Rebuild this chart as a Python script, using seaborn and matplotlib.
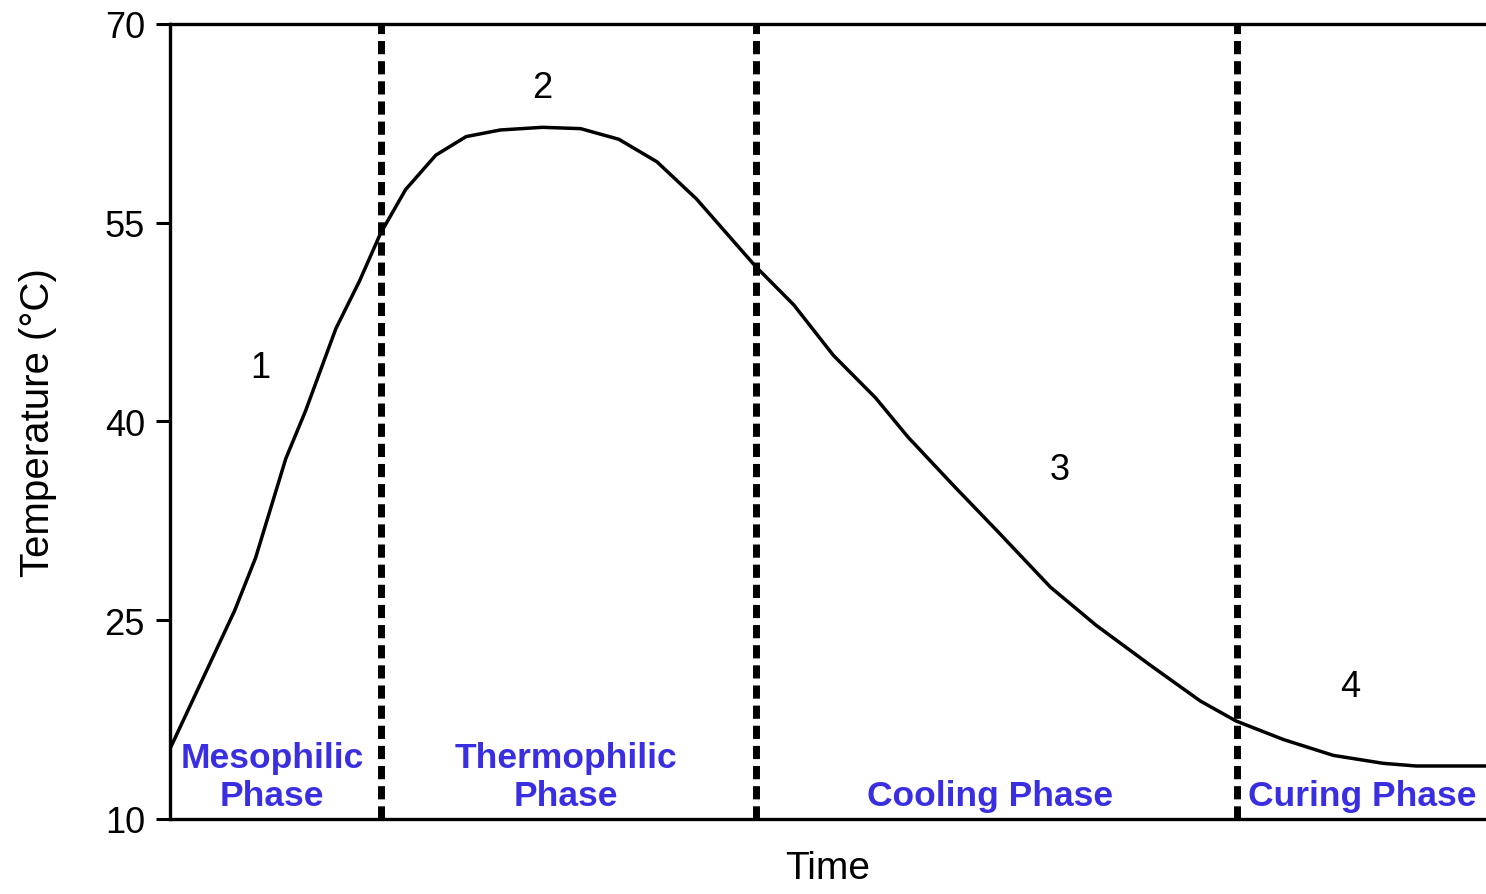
import matplotlib

matplotlib.use("Agg")

import matplotlib.pyplot as plt
import pandas as pd
import seaborn as sns

# temperature curve (time in arbitrary units 0..100)
time_pts = [0.0, 4.9, 6.5, 8.8, 10.3, 12.6, 14.4, 16.0, 17.9, 20.2, 22.5, 25.1, 28.3,
            31.2, 34.1, 37.0, 40.0, 44.5, 47.4, 50.4, 53.6, 56.1, 59.6, 62.8, 66.9,
            70.4, 74.5, 78.3, 81.0, 84.6, 88.4, 92.2, 94.7, 100.0]
temperature = [15.3, 25.7, 29.7, 37.2, 40.8, 47.0, 50.6, 54.2, 57.5, 60.1, 61.5, 62.0, 62.2,
               62.1, 61.3, 59.6, 56.8, 51.7, 48.8, 45.0, 41.8, 38.8, 35.1, 31.8, 27.5,
               24.6, 21.6, 18.9, 17.4, 16.0, 14.8, 14.2, 14.0, 14.0]

phase_bounds = [16.0, 44.5, 81.1]
phase_names = ["Mesophilic\nPhase", "Thermophilic\nPhase", "Cooling Phase", "Curing Phase"]
phase_x = [7.75, 30.1, 62.3, 90.6]
phase_y = [13.2, 13.2, 11.75, 11.75]

stage_labels = ["1", "2", "3", "4"]
stage_x = [6.85, 28.3, 67.6, 89.7]
stage_y = [44.1, 65.2, 36.4, 20.0]

y_ticks = [10, 25, 40, 55, 70]

sns.set_theme(style="ticks")
plt.rcParams["font.family"] = ["Liberation Sans", "DejaVu Sans"]
plt.rcParams["text.color"] = "black"
plt.rcParams["axes.labelcolor"] = "black"
plt.rcParams["ytick.color"] = "black"
plt.rcParams["xtick.color"] = "black"

df = pd.DataFrame({"Time": time_pts, "Temperature": temperature})

fig = plt.figure(figsize=(14.86, 8.95), dpi=100)
ax = fig.add_axes([0.1144, 0.0838, 0.8856, 0.8883])

sns.lineplot(data=df, x="Time", y="Temperature", color="black", linewidth=2.5, ax=ax)

for xb in phase_bounds:
    ax.axvline(xb, color="black", linewidth=5.0, linestyle=(0, (1.9, 1.0)))

blue = "#3a2fe0"
for name, xx, yy in zip(phase_names, phase_x, phase_y):
    ax.text(xx, yy, name, color=blue, fontsize=25.5, fontweight="bold",
            ha="center", va="center", linespacing=1.2)

for lab, xx, yy in zip(stage_labels, stage_x, stage_y):
    ax.text(xx, yy, lab, color="black", fontsize=26, ha="center", va="center")

ax.set_xlim(0, 100)
ax.set_ylim(10, 70)
ax.set_yticks(y_ticks)
ax.set_xticks([])
ax.tick_params(axis="y", labelsize=26, length=10, width=2.2, pad=8)
ax.set_xlabel("Time", fontsize=28, labelpad=22)
ax.set_ylabel("Temperature (\u00b0C)", fontsize=29, labelpad=34)

for side in ["left", "bottom", "top"]:
    ax.spines[side].set_linewidth(2.4)
    ax.spines[side].set_color("black")
ax.spines["right"].set_visible(False)

fig.savefig("out.png", dpi=100, facecolor="white")
